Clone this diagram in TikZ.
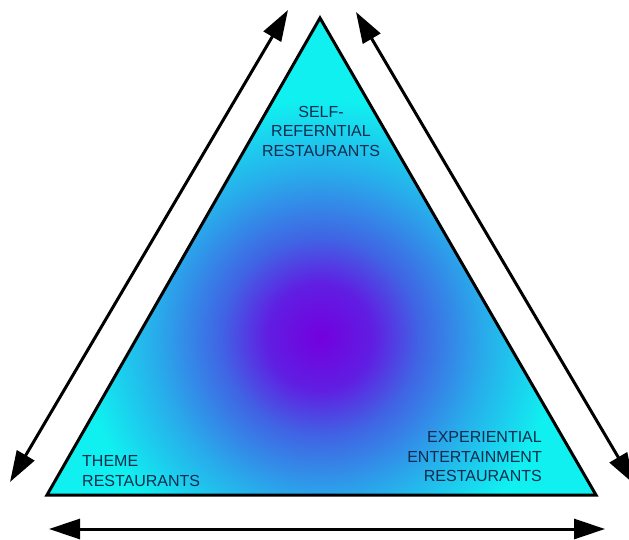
\documentclass[tikz,border=0pt]{standalone}
\usepackage{fontspec}
\setmainfont{Liberation Sans}
\usetikzlibrary{arrows.meta}

\definecolor{purp}{RGB}{115,0,222}
\definecolor{violet}{RGB}{96,30,226}
\definecolor{midblue}{RGB}{64,100,228}
\definecolor{skyblue}{RGB}{40,172,235}
\definecolor{cyn}{RGB}{16,240,240}
\definecolor{labelink}{RGB}{16,44,78}

% purple core fading out to cyan (25bp = radius of the shaded circle)
\pgfdeclareradialshading{glow}{\pgfpoint{0bp}{0bp}}{%
  color(0bp)=(purp); color(4bp)=(violet); color(7.5bp)=(midblue);
  color(12.5bp)=(skyblue); color(18bp)=(cyn); color(50bp)=(cyn)}

\tikzset{
  edge/.style={line width=3pt, line join=miter},
  twoway/.style={line width=3pt,
    {Triangle[length=31pt,width=20pt]}-{Triangle[length=31pt,width=20pt]}},
  tag/.style={font=\fontsize{16}{19.5}\selectfont, text=labelink, inner sep=0pt}
}

\begin{document}
\begin{tikzpicture}[x=1pt,y=-1pt]
  \useasboundingbox (0,0) rectangle (629,540);
  \clip (0,0) rectangle (629,540);

  % triangle corners
  \coordinate (apex) at (320,18);
  \coordinate (bl) at (47,495);
  \coordinate (br) at (596,495);

  % shaded body
  \begin{scope}
    \clip (apex) -- (bl) -- (br) -- cycle;
    \shade[shading=glow] (320,337) circle (330pt);
  \end{scope}
  \draw[edge] (apex) -- (bl) -- (br) -- cycle;

  % arrow ends
  \coordinate (la) at (288,10);
  \coordinate (lb) at (10,482);
  \coordinate (ra) at (356,12);
  \coordinate (rb) at (634,484);
  \coordinate (ba) at (49,529);
  \coordinate (bb) at (605,529);

  \draw[twoway] (lb) -- (la);
  \draw[twoway] (ra) -- (rb);
  \draw[twoway] (ba) -- (bb);

  % corner labels
  \node[tag, align=center] (self) at (321,131)
    {SELF-\\REFERNTIAL\\RESTAURANTS};
  \node[tag, align=left, anchor=west] (theme) at (82,471)
    {THEME\\RESTAURANTS};
  \node[tag, align=right, anchor=east] (exp) at (542,457)
    {EXPERIENTIAL\\ENTERTAINMENT\\RESTAURANTS};
\end{tikzpicture}
\end{document}
